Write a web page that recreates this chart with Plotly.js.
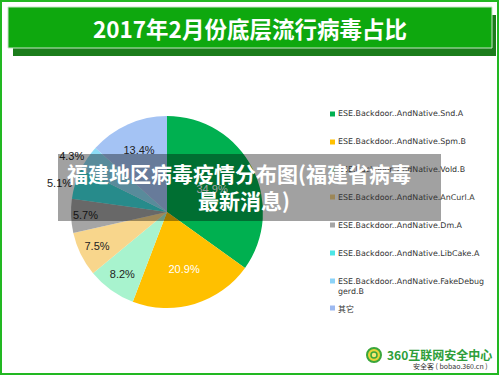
<!DOCTYPE html>
<html><head><meta charset="utf-8">
<script src="https://cdn.plot.ly/plotly-3.0.1.min.js"></script>
<style>html,body{margin:0;padding:0;background:#fff;}#chart{width:500px;height:375px;}</style>
</head><body><div id="chart"></div>
<script>
// ---- data ----
const categories = [
  "ESE.Backdoor..AndNative.Snd.A",
  "ESE.Backdoor..AndNative.Spm.B",
  "ESE.Backdoor..AndNative.Vold.B",
  "ESE.Backdoor..AndNative.AnCurl.A",
  "ESE.Backdoor..AndNative.Dm.A",
  "ESE.Backdoor..AndNative.LibCake.A",
  "ESE.Backdoor..AndNative.FakeDebuggerd.B",
  "其它"
];
const legendLabels = [
  "ESE.Backdoor..AndNative.Snd.A",
  "ESE.Backdoor..AndNative.Spm.B",
  "ESE.Backdoor..AndNative.Vold.B",
  "ESE.Backdoor..AndNative.AnCurl.A",
  "ESE.Backdoor..AndNative.Dm.A",
  "ESE.Backdoor..AndNative.LibCake.A",
  "ESE.Backdoor..AndNative.FakeDebug<br>gerd.B",
  "其它"
];
const shares = [34.9, 20.9, 8.2, 7.5, 5.7, 5.1, 4.3, 13.4];
const sliceColors = ["#00B050", "#FFC000", "#A8F3CE", "#F8D68C", "#A5A5A5", "#3EDCDC", "#8DDDF6", "#A4C3F4"];
const legendMarkerColors = ["#00B050", "#FFC000", "#A8F3CE", "#F8D68C", "#A5A5A5", "#4CE6E6", "#8CD3F8", "#9DB9F0"];
const labelColors = ["#ffffff", "#ffffff", "#222", "#222", "#222", "#222", "#222", "#222"];
const labelPositions = ["inside", "inside", "inside", "inside", "inside", "outside", "outside", "inside"];
const chartTitle = "2017年2月份底层流行病毒占比";
const overlayLine1 = "福建地区病毒疫情分布图(福建省病毒";
const overlayLine2 = "最新消息)";
const logoText = "360互联网安全中心";
const logoSub = "安全客 ( bobao.360.cn )";

// ---- layout helpers ----
const W = 500, H = 375;
const px = x => x / W;
const py = y => 1 - y / H;

const cx = 167, cy = 212, r = 96;

const trace = {
  type: "pie",
  labels: categories,
  values: shares,
  sort: false,
  direction: "clockwise",
  rotation: 0,
  marker: {colors: sliceColors, line: {width: 0}},
  texttemplate: "%{percent:.1%}",
  textposition: labelPositions,
  insidetextorientation: "horizontal",
  textfont: {family: "Liberation Sans, Arial, sans-serif", size: 11, color: labelColors},
  outsidetextfont: {family: "Liberation Sans, Arial, sans-serif", size: 11, color: "#222"},
  hoverinfo: "label+percent",
  domain: {x: [px(cx - r), px(cx + r)], y: [py(cy + r), py(cy - r)]},
  showlegend: false,
  automargin: false
};

const shapes = [];
const annotations = [];

// outer frame
shapes.push({type: "rect", xref: "paper", yref: "paper", x0: px(1), x1: px(498), y0: py(374), y1: py(1),
  line: {color: "#22B822", width: 2}, fillcolor: "rgba(0,0,0,0)", layer: "below"});
// banner shadow + banner
shapes.push({type: "rect", xref: "paper", yref: "paper", x0: px(13), x1: px(496), y0: py(56), y1: py(15),
  line: {width: 0}, fillcolor: "#1B7D1B", layer: "below"});
shapes.push({type: "rect", xref: "paper", yref: "paper", x0: px(8), x1: px(492), y0: py(48), y1: py(7),
  line: {color: "#C6E6C6", width: 1}, fillcolor: "#0EA80E", layer: "below"});

annotations.push({xref: "paper", yref: "paper", x: px(250), y: py(28), xanchor: "center", yanchor: "middle",
  text: "<b>" + chartTitle + "</b>", showarrow: false,
  font: {family: "Noto Sans CJK SC", size: 22.5, color: "#ffffff"}});

// legend (drawn from categories)
const legendY = [114, 142, 170, 197, 225, 253, 281, 308];
legendLabels.forEach((lab, i) => {
  shapes.push({type: "rect", xref: "paper", yref: "paper",
    x0: px(330), x1: px(335), y0: py(legendY[i] + 2.5), y1: py(legendY[i] - 2.5),
    line: {width: 0}, fillcolor: legendMarkerColors[i], layer: "below"});
  annotations.push({xref: "paper", yref: "paper", x: px(336), y: py(legendY[i] - 6.5),
    xanchor: "left", yanchor: "top", align: "left", text: lab, showarrow: false,
    font: {family: "DejaVu Sans, Noto Sans CJK SC, sans-serif", size: 7.9, color: "#333"}});
});

// overlay band
shapes.push({type: "rect", xref: "paper", yref: "paper", x0: px(58), x1: px(441), y0: py(221), y1: py(154),
  line: {width: 0}, fillcolor: "rgba(0,0,0,0.37)", layer: "above"});
annotations.push({xref: "paper", yref: "paper", x: px(239), y: py(173), xanchor: "center", yanchor: "middle",
  text: "<b>" + overlayLine1 + "</b>", showarrow: false,
  font: {family: "Noto Sans CJK SC", size: 21, color: "#ffffff"}});
annotations.push({xref: "paper", yref: "paper", x: px(244), y: py(200), xanchor: "center", yanchor: "middle",
  text: "<b>" + overlayLine2 + "</b>", showarrow: false,
  font: {family: "Noto Sans CJK SC", size: 21, color: "#ffffff"}});

// logo
shapes.push({type: "circle", xref: "paper", yref: "paper", x0: px(367), x1: px(381), y0: py(362), y1: py(348),
  line: {color: "#3AA63A", width: 2}, fillcolor: "#E8D43A", layer: "below"});
shapes.push({type: "circle", xref: "paper", yref: "paper", x0: px(371), x1: px(377), y0: py(358), y1: py(352),
  line: {color: "#3AA63A", width: 1.5}, fillcolor: "#F4E87A", layer: "below"});
annotations.push({xref: "paper", yref: "paper", x: px(385), y: py(354), xanchor: "left", yanchor: "middle",
  text: "<b>" + logoText + "</b>", showarrow: false,
  font: {family: "Noto Sans CJK SC", size: 12, color: "#2E9E3A"}});
annotations.push({xref: "paper", yref: "paper", x: px(450), y: py(366), xanchor: "center", yanchor: "middle",
  text: logoSub, showarrow: false,
  font: {family: "Noto Sans CJK SC", size: 7, color: "#333"}});

const layout = {
  width: W, height: H,
  margin: {l: 0, r: 0, t: 0, b: 0},
  paper_bgcolor: "#ffffff",
  showlegend: false,
  shapes: shapes,
  annotations: annotations
};

Plotly.newPlot("chart", [trace], layout, {displayModeBar: false, staticPlot: true});
</script></body></html>
